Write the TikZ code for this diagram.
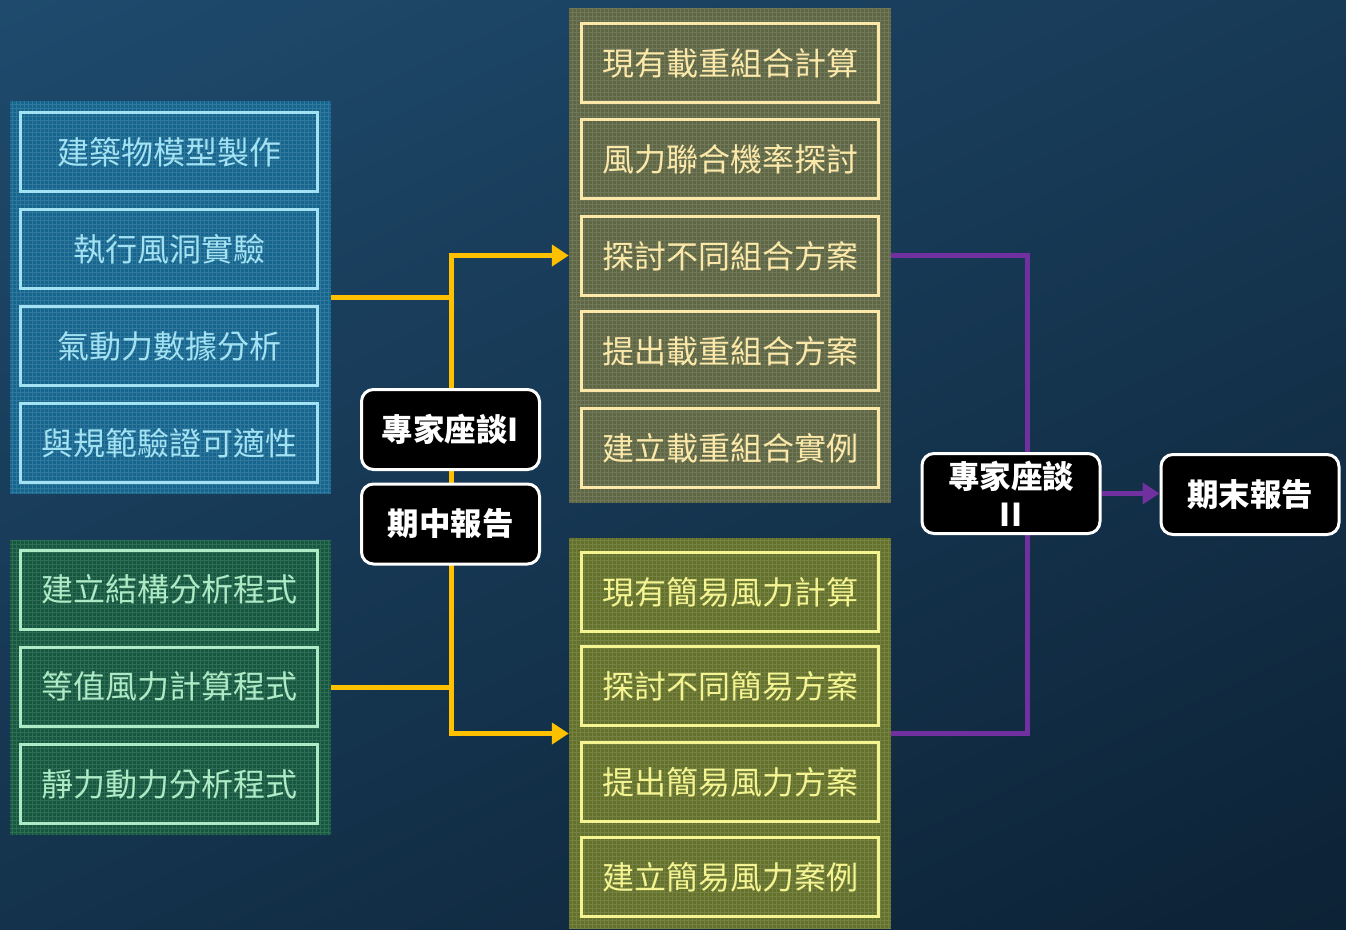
\documentclass[tikz,border=0pt]{standalone}
\usepackage{fontspec}
\setmainfont{Noto Sans CJK TC}
\usetikzlibrary{arrows.meta,positioning}
\definecolor{bgA}{HTML}{1F4B6E}
\definecolor{bgB}{HTML}{0C2134}
\definecolor{bluePanel}{HTML}{16658F}
\definecolor{blueLine}{HTML}{A2E2F2}
\definecolor{greenPanel}{HTML}{15583F}
\definecolor{greenLine}{HTML}{AEEAC6}
\definecolor{olivePanel}{HTML}{5E6644}
\definecolor{oliveLine}{HTML}{FCE9AA}
\definecolor{limePanel}{HTML}{63712B}
\definecolor{limeLine}{HTML}{F5F492}
\definecolor{arrowYellow}{HTML}{FFC000}
\definecolor{arrowPurple}{HTML}{7030A0}
\tikzset{
  panel/.style={minimum width=321pt, inner sep=0pt, draw=none},
  itembox/.style={draw, line width=3pt, minimum width=297pt, minimum height=79pt, inner sep=0pt,
     font=\fontsize{32}{36}\selectfont},
  blackbox/.style={draw=white, line width=3pt, fill=black, rounded corners=12pt,
     minimum width=178pt, minimum height=80pt, inner sep=0pt, text=white,
     font=\fontsize{31.5}{34}\selectfont\bfseries, align=center},
  yline/.style={draw=arrowYellow, line width=5pt},
  pline/.style={draw=arrowPurple, line width=5pt},
  tip/.style={-{Triangle[length=17pt,width=21pt]}}
}
\begin{document}
\begin{tikzpicture}[x=1pt,y=-1pt]
\useasboundingbox (0,0) rectangle (1346,929);
\shade[top color=bgA, bottom color=bgB, shading angle=25] (-200,-200) rectangle (1546,1129);
% panels
\node[panel, fill=bluePanel, minimum height=393pt] (bluepanel) at (170.5,297.5) {};
\node[panel, fill=greenPanel, minimum height=295pt] (greenpanel) at (170.5,687.5) {};
\node[panel, fill=olivePanel, minimum width=322pt, minimum height=495pt] (toppanel) at (730,255.5) {};
\node[panel, fill=limePanel, minimum width=322pt, minimum height=391pt] (botpanel) at (730,733.5) {};
% texture
\begin{scope}[opacity=0.12]
\clip (10,101) rectangle (331,494) (10,540) rectangle (331,835) (569,8) rectangle (891,503) (569,538) rectangle (891,929);
\draw[white, line width=0.5pt, step=4pt] (0,0) grid (900,929);
\end{scope}
% blue items
\begin{scope}[every node/.style={itembox, draw=blueLine, text=blueLine}]
\node (b1) at (169,152) {建築物模型製作};
\node (b2) at (169,249) {執行風洞實驗};
\node (b3) at (169,346) {氣動力數據分析};
\node (b4) at (169,443) {與規範驗證可適性};
\end{scope}
\begin{scope}[every node/.style={itembox, draw=greenLine, text=greenLine}]
\node (g1) at (169,589.5) {建立結構分析程式};
\node (g2) at (169,686.5) {等值風力計算程式};
\node (g3) at (169,784) {靜力動力分析程式};
\end{scope}
\begin{scope}[every node/.style={itembox, draw=oliveLine, text=oliveLine}]
\node (t1) at (730,63) {現有載重組合計算};
\node (t2) at (730,159) {風力聯合機率探討};
\node (t3) at (730,256) {探討不同組合方案};
\node (t4) at (730,351) {提出載重組合方案};
\node (t5) at (730,448) {建立載重組合實例};
\end{scope}
\begin{scope}[every node/.style={itembox, draw=limeLine, text=limeLine}]
\node (l1) at (730,592) {現有簡易風力計算};
\node (l2) at (730,686) {探討不同簡易方案};
\node (l3) at (730,782) {提出簡易風力方案};
\node (l4) at (730,877) {建立簡易風力案例};
\end{scope}
% yellow connectors
\coordinate (jtop) at (451,255.5);
\coordinate (jbot) at (451,733.5);
\draw[yline] (bluepanel.east) -- (bluepanel.east -| jtop);
\draw[yline] (greenpanel.east) -- (greenpanel.east -| jtop);
\draw[yline, line join=miter] (jbot) -- (jtop);
\draw[yline, tip] ([xshift=-2.5pt]jtop) -- (toppanel.west);
\draw[yline, tip] ([xshift=-2.5pt]jbot) -- (botpanel.west);
% purple connectors
\coordinate (pj) at (1027,0);
\draw[pline, line join=miter] (toppanel.east) -- (toppanel.east -| pj) -- (botpanel.east -| pj) -- (botpanel.east);
% black boxes
\node[blackbox] (s1) at (450.5,429.5) {專家座談I};
\node[blackbox] (mid) at (450.5,524) {期中報告};
\node[blackbox, font=\fontsize{31.5}{38}\selectfont\bfseries] (s2) at (1011,493.5) {專家座談\\II};
\node[blackbox] (final) at (1250,494.5) {期末報告};
\draw[pline, tip] (s2.east) -- (s2.east -| final.west);
\end{tikzpicture}
\end{document}
